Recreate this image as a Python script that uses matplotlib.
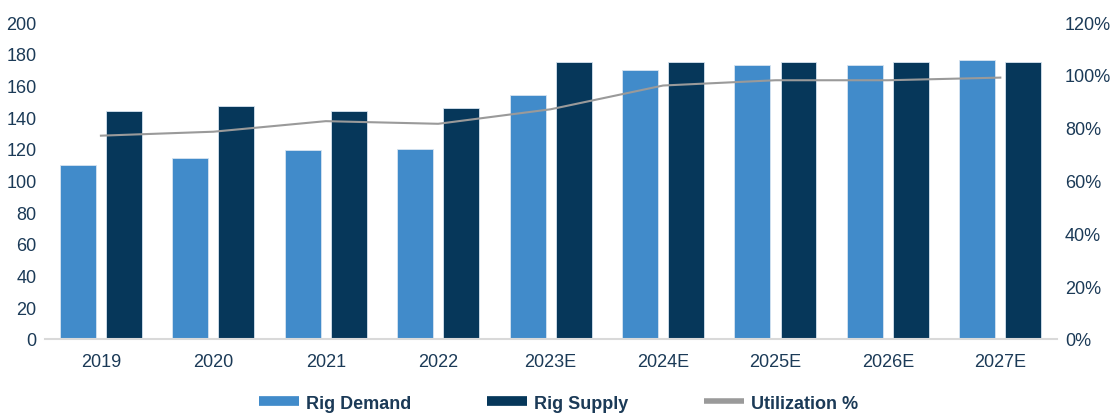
import matplotlib.pyplot as plt
import numpy as np
from matplotlib.lines import Line2D

years = ["2019", "2020", "2021", "2022", "2023E", "2024E", "2025E", "2026E", "2027E"]
rig_demand = [110, 114, 119, 120, 154, 170, 173, 173, 176]
rig_supply = [144, 147, 144, 146, 175, 175, 175, 175, 175]
utilization = [0.77, 0.785, 0.825, 0.815, 0.87, 0.96, 0.98, 0.98, 0.99]

DEMAND_COLOR = "#418bca"
SUPPLY_COLOR = "#06375a"
LINE_COLOR = "#9a9a9a"
TEXT_COLOR = "#1b3a57"

plt.rcParams["font.family"] = ["Liberation Sans", "DejaVu Sans"]

fig = plt.figure(figsize=(11.18, 4.14), dpi=100)
ax = fig.add_axes([0.040, 0.179, 0.905, 0.765])
x = np.arange(len(years))
width = 0.32
offset = 0.205

ax.bar(x - offset, rig_demand, width, color=DEMAND_COLOR, edgecolor="#d6e4f0", linewidth=0.6, zorder=2)
ax.bar(x + offset, rig_supply, width, color=SUPPLY_COLOR, edgecolor="#d6e4f0", linewidth=0.6, zorder=2)

ax.set_xlim(-0.5, len(years) - 0.5)
ax.set_ylim(0, 200)
ax.set_yticks(np.arange(0, 201, 20))
ax.set_xticks(x)
ax.set_xticklabels(years)
ax.tick_params(axis="both", length=0, labelsize=13, colors=TEXT_COLOR)
ax.tick_params(axis="x", pad=10)
ax.tick_params(axis="y", pad=6)
for side in ["top", "right", "left"]:
    ax.spines[side].set_visible(False)
ax.spines["bottom"].set_color("#d9d9d9")
ax.spines["bottom"].set_linewidth(1.5)

ax2 = ax.twinx()
ax2.plot(x, utilization, color=LINE_COLOR, linewidth=1.5, zorder=3)
ax2.set_ylim(0, 1.2)
ax2.set_yticks(np.arange(0, 1.21, 0.2))
ax2.set_yticklabels([f"{int(round(v * 100))}%" for v in np.arange(0, 1.21, 0.2)])
ax2.tick_params(axis="y", length=0, labelsize=13, colors=TEXT_COLOR, pad=6)
for side in ["top", "right", "left", "bottom"]:
    ax2.spines[side].set_visible(False)

handles = [
    Line2D([0], [0], color=DEMAND_COLOR, linewidth=7, solid_capstyle="butt"),
    Line2D([0], [0], color=SUPPLY_COLOR, linewidth=7, solid_capstyle="butt"),
    Line2D([0], [0], color=LINE_COLOR, linewidth=4, solid_capstyle="butt"),
]
labels = ["Rig Demand", "Rig Supply", "Utilization %"]
leg = fig.legend(
    handles,
    labels,
    loc="center",
    bbox_to_anchor=(0.5, 0.024),
    ncol=3,
    frameon=False,
    handlelength=2.2,
    handletextpad=0.4,
    columnspacing=4.2,
    prop={"size": 13, "weight": "bold"},
)
for t in leg.get_texts():
    t.set_color(TEXT_COLOR)

fig.savefig("out.png", dpi=100)
